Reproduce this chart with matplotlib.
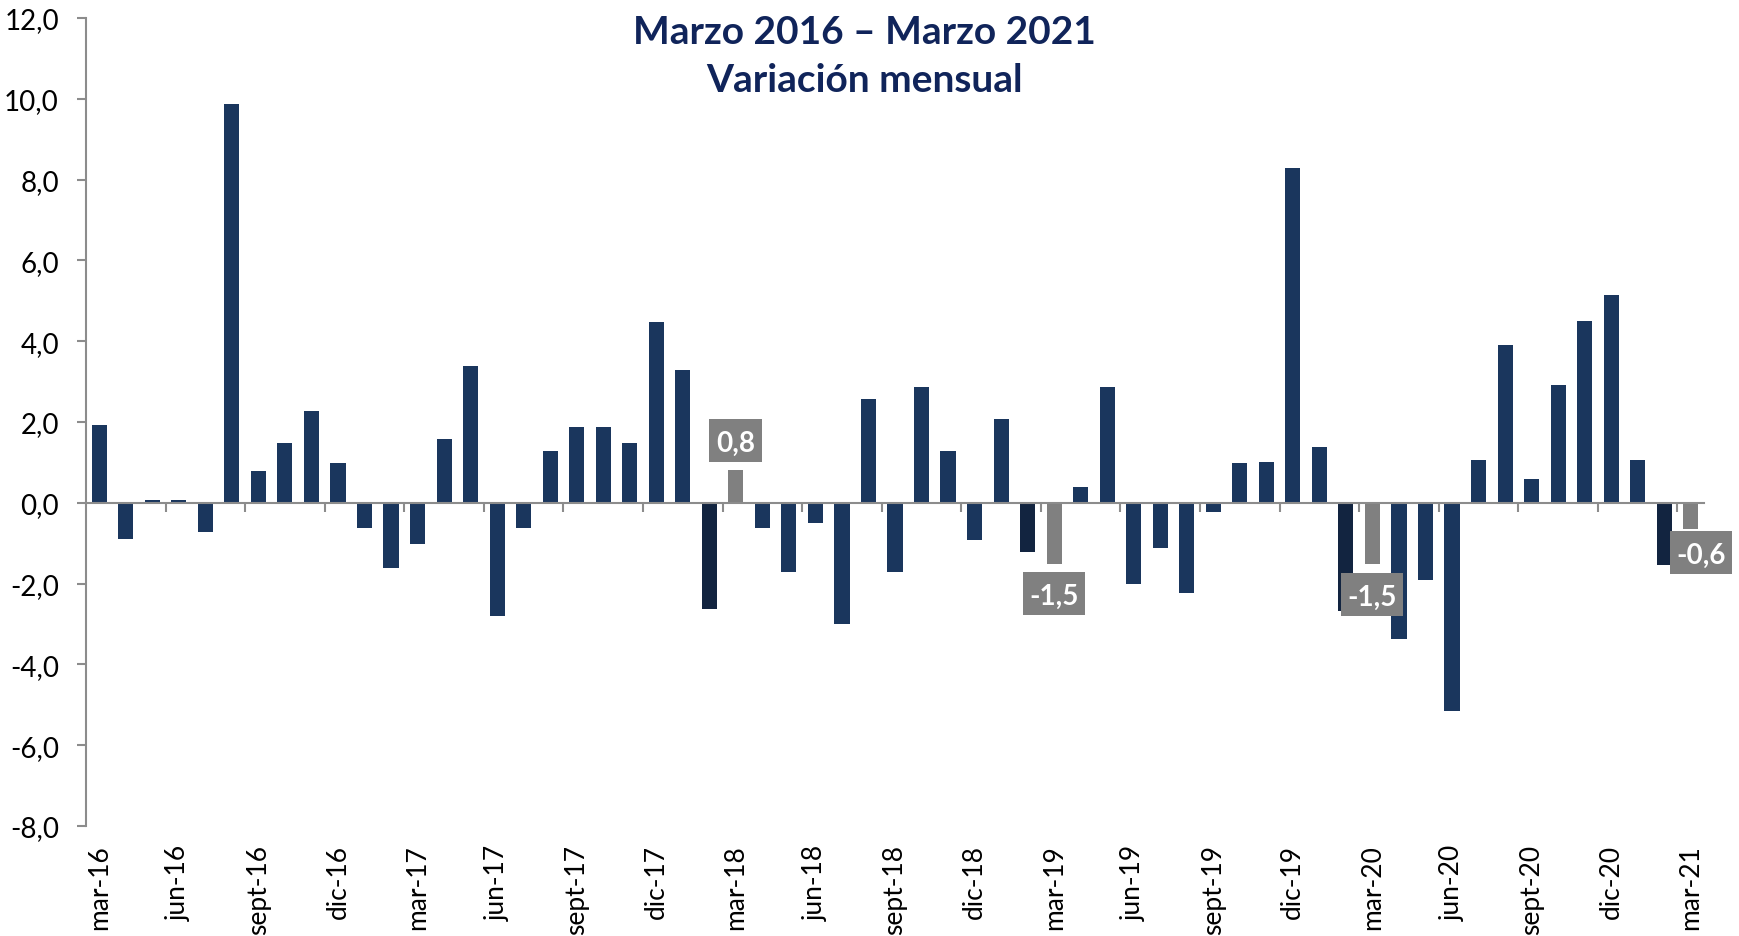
import matplotlib
matplotlib.use("Agg")
import matplotlib.pyplot as plt
from matplotlib.patches import Rectangle
import numpy as np

plt.rcParams['font.family'] = ['Lato', 'DejaVu Sans']

# ---------------- data ----------------
values = [
    # 2016 (mar-dic)
    1.93, -0.90, 0.08, 0.08, -0.72, 9.88, 0.78, 1.48, 2.28, 0.99,
    # 2017
    -0.62, -1.61, -1.02, 1.58, 3.38, -2.81, -0.62, 1.29, 1.88, 1.88, 1.48, 4.48,
    # 2018
    3.28, -2.62, 0.80, -0.62, -1.71, -0.51, -3.01, 2.58, -1.71, 2.87, 1.28, -0.91,
    # 2019
    2.07, -1.21, -1.51, 0.38, 2.87, -2.02, -1.11, -2.23, -0.22, 0.98, 1.01, 8.28,
    # 2020
    1.38, -2.69, -1.52, -3.36, -1.92, -5.15, 1.06, 3.90, 0.60, 2.91, 4.50, 5.15,
    # 2021 (ene-mar)
    1.06, -1.53, -0.64,
]
tick_labels = ['mar-16', 'jun-16', 'sept-16', 'dic-16', 'mar-17', 'jun-17', 'sept-17',
               'dic-17', 'mar-18', 'jun-18', 'sept-18', 'dic-18', 'mar-19', 'jun-19',
               'sept-19', 'dic-19', 'mar-20', 'jun-20', 'sept-20', 'dic-20', 'mar-21']
highlight_idx = [24, 36, 48, 60]          # marzo de cada año (etiquetados)
yticks = [-8, -6, -4, -2, 0, 2, 4, 6, 8, 10, 12]
title_lines = ['Marzo 2016 \u2013 Marzo 2021', 'Variaci\u00f3n mensual']

# ---------------- style ----------------
NAVY = '#1a365d'
DARK = '#122440'
GRAY = '#808080'
AXIS = '#8c8c8c'
TITLE = '#10245a'

W, H = 1739, 937
fig = plt.figure(figsize=(W / 100, H / 100), dpi=100)
left, right, top, bottom = 86, 1704, 19, 827
ax = fig.add_axes([left / W, 1 - bottom / H, (right - left) / W, (bottom - top) / H])

n = len(values)
x = np.arange(n)
colors = []
for i in range(n):
    if i in highlight_idx:
        colors.append(GRAY)
    elif (i + 1) in highlight_idx:
        colors.append(DARK)
    else:
        colors.append(NAVY)

ax.bar(x, values, width=0.57, color=colors, zorder=2)

ax.set_xlim(-0.5, n - 0.5)
ax.set_ylim(-8, 12)

# spines
for s in ['top', 'right']:
    ax.spines[s].set_visible(False)
ax.spines['left'].set_color(AXIS)
ax.spines['left'].set_linewidth(1.5)
ax.spines['bottom'].set_position(('data', 0))
ax.spines['bottom'].set_color(AXIS)
ax.spines['bottom'].set_linewidth(1.5)
ax.spines['bottom'].set_zorder(3)

# y ticks
ax.set_yticks(yticks, [f'{v:.1f}'.replace('.', ',') for v in yticks])
ax.tick_params(axis='y', direction='out', length=6.5, width=1.5, color=AXIS,
               pad=13, labelsize=20, labelcolor='black')

# boundary ticks on zero line
ax.set_xticks(np.arange(2.5, n - 0.5, 3))
ax.tick_params(axis='x', direction='out', length=6.5, width=1.5, color=AXIS,
               labelbottom=False)

# category labels at bottom
sec = ax.secondary_xaxis(0.0)
sec.set_xticks(np.arange(0, n, 3), tick_labels)
sec.tick_params(axis='x', length=0, pad=13, labelsize=19, labelrotation=90,
                labelcolor='black')
sec.spines['bottom'].set_visible(False)

# value boxes
for k, i in enumerate(highlight_idx):
    v = values[i]
    txt = f'{v:.1f}'.replace('.', ',')
    h = 1.06
    if v >= 0:
        y0 = v + 0.21
        wl, wr = 1.0, 1.0
    elif i == n - 1:
        y0 = v - 0.05 - h
        wl, wr = 0.77, 1.56
    else:
        y0 = v - 0.21 - h
        wl, wr = 1.17, 1.17
    rect = Rectangle((i - wl, y0), wl + wr, h, facecolor=GRAY, edgecolor='none',
                     zorder=5, clip_on=False)
    ax.add_patch(rect)
    ax.text(i + (wr - wl) / 2, y0 + h / 2, txt, color='white', fontsize=20,
            fontweight='bold', ha='center', va='center_baseline', zorder=6,
            clip_on=False)

# title
fig.text(864 / W, 1 - 44 / H, title_lines[0], ha='center', va='baseline',
         fontsize=28, fontweight='bold', color=TITLE)
fig.text(864 / W, 1 - 92 / H, title_lines[1], ha='center', va='baseline',
         fontsize=28, fontweight='bold', color=TITLE)

fig.savefig('out.png', dpi=100, facecolor='white')
